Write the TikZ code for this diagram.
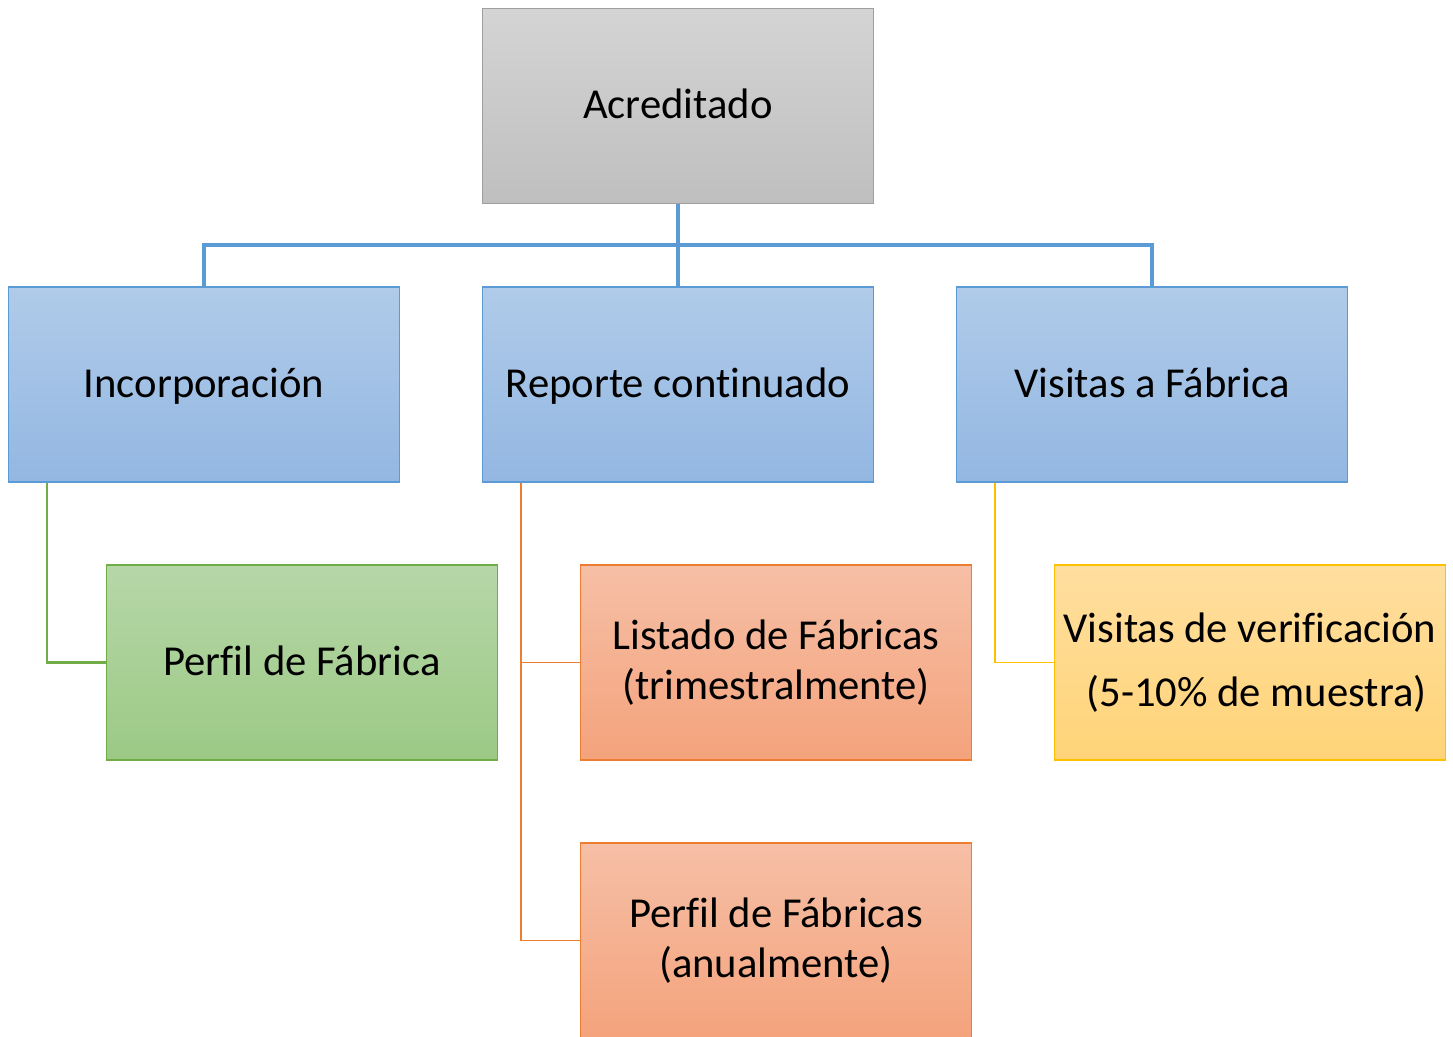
\documentclass[tikz,border=0pt]{standalone}
\usepackage{fontspec}
\setmainfont[Ligatures=CommonOff]{Carlito}
\begin{document}
\begin{tikzpicture}[x=0.75pt,y=-0.75pt,
  box/.style={rectangle, minimum width=293pt, minimum height=146pt, inner sep=0pt,
    line width=1.1pt, align=center, font=\fontsize{32}{36}\selectfont, text=black},
  oneline/.style={text height=24pt, text depth=5pt},
  graybox/.style={box, draw=gray!75, top color=graydtop, bottom color=graydbot},
  bluebox/.style={box, draw=blueline, top color=bluetop, bottom color=bluebot},
  greenbox/.style={box, draw=greenline, top color=greentop, bottom color=greenbot},
  orangebox/.style={box, draw=orangeline, top color=orangetop, bottom color=orangebot},
  yellowbox/.style={box, draw=yellowline, top color=yellowtop, bottom color=yellowbot},
  blueconn/.style={draw=blueline, line width=2.4pt},
  greenconn/.style={draw=greenline, line width=1.7pt},
  orangeconn/.style={draw=orangeline, line width=0.9pt},
  yellowconn/.style={draw=yellowline, line width=0.9pt}]
\definecolor{graydtop}{HTML}{D4D4D4}
\definecolor{graydbot}{HTML}{BFBFBF}
\definecolor{bluetop}{HTML}{B0CBE9}
\definecolor{bluebot}{HTML}{93B7E2}
\definecolor{blueline}{HTML}{5B9BD5}
\definecolor{greentop}{HTML}{B6D7A8}
\definecolor{greenbot}{HTML}{9CC985}
\definecolor{greenline}{HTML}{70AD47}
\definecolor{orangetop}{HTML}{F6BFA6}
\definecolor{orangebot}{HTML}{F4A37C}
\definecolor{orangeline}{HTML}{ED7D31}
\definecolor{yellowtop}{HTML}{FFDE9F}
\definecolor{yellowbot}{HTML}{FFD478}
\definecolor{yellowline}{HTML}{FFC000}
\clip (0,0) rectangle (1453,1036);
\useasboundingbox (0,0) rectangle (1453,1036);
% nodes
\node[graybox, oneline] (acr) at (678,106) {Acreditado};
\node[bluebox, oneline] (inc) at (204,384.5) {Incorporación};
\node[bluebox, oneline] (rep) at (678,384.5) {Reporte continuado};
\node[bluebox, oneline] (vis) at (1152,384.5) {Visitas a Fábrica};
\node[greenbox, oneline] (pf) at (302,662.5) {Perfil de Fábrica};
\node[orangebox, font=\fontsize{32}{37}\selectfont] (lis) at (776,662.5) {Listado de Fábricas\\(trimestralmente)};
\node[yellowbox, font=\fontsize{32}{48}\selectfont] (ver) at (1250,662.5) {Visitas de verificación\\\hspace{0.3em}(5-10\% de muestra)};
\node[orangebox, font=\fontsize{32}{37}\selectfont] (anu) at (776,940.5) {Perfil de Fábricas\\(anualmente)};
% connectors
\coordinate (bus) at (678,245);
\draw[blueconn] (acr.south) -- (bus);
\draw[blueconn] (inc.north) |- (bus) -| (vis.north);
\draw[blueconn] (bus) -- (rep.north);
\draw[greenconn] (inc.south -| 47,0) |- (pf.west);
\draw[orangeconn] (rep.south -| 521,0) |- (lis.west);
\draw[orangeconn] (rep.south -| 521,0) |- (anu.west);
\draw[yellowconn] (vis.south -| 995,0) |- (ver.west);
\end{tikzpicture}
\end{document}
